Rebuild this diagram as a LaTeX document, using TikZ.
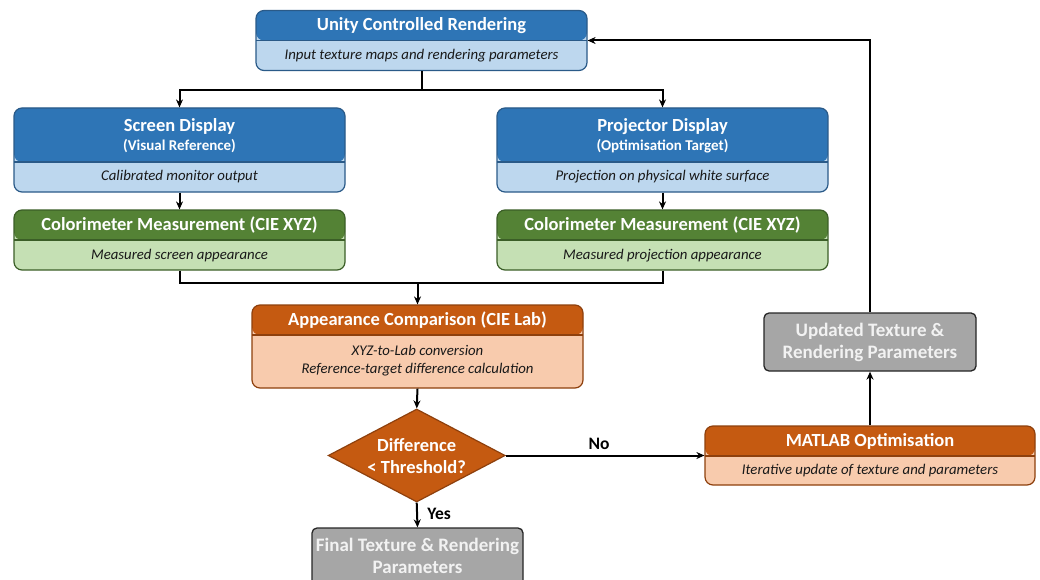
\documentclass[tikz,border=0pt]{standalone}
\usepackage{fontspec}
\setmainfont{Carlito}
\usetikzlibrary{shapes.geometric,arrows.meta}
\definecolor{bhead}{HTML}{2E75B6}
\definecolor{bbody}{HTML}{BDD7EE}
\definecolor{bline}{HTML}{2A5A88}
\definecolor{ghead}{HTML}{548235}
\definecolor{gbody}{HTML}{C5E0B4}
\definecolor{gline}{HTML}{3B5E27}
\definecolor{ohead}{HTML}{C55A11}
\definecolor{obody}{HTML}{F8CBAD}
\definecolor{oline}{HTML}{8E400D}
\definecolor{gfill}{HTML}{A6A6A6}
\definecolor{gtext}{HTML}{F2F2F2}
\tikzset{
  card/.style n args={4}{draw=#3, line width=1.2pt, rounded corners=8pt, fill=#2, inner sep=0pt,
    path picture={\fill[#1] (path picture bounding box.north west) rectangle ([yshift=-#4]path picture bounding box.east |- path picture bounding box.north);
      \draw[#3, line width=1.2pt] ([yshift=-#4]path picture bounding box.north west) -- ([yshift=-#4]path picture bounding box.north east);}},
  ttl/.style={text=white, font=\bfseries\fontsize{18.5}{22}\selectfont, align=center},
  ttls/.style={text=white, font=\bfseries\fontsize{15}{18}\selectfont, align=center},
  sub/.style={text=black!90, font=\itshape\fontsize{14.8}{18}\selectfont, align=center},
  greybox/.style={draw=black!85, line width=1.3pt, rounded corners=5pt, fill=gfill, text=gtext,
    font=\bfseries\fontsize{19}{22}\selectfont, align=center},
  conn/.style={line width=2pt, draw=black},
  arr/.style={conn, -{Stealth[length=8pt,width=7pt]}},
  lbl/.style={font=\bfseries\fontsize{17.5}{20}\selectfont}
}
\begin{document}
\begin{tikzpicture}[x=1pt,y=-1pt]
\useasboundingbox (0,0) rectangle (1040,580);
% boxes
\node[card={bhead}{bbody}{bline}{30pt}, minimum width=331pt, minimum height=60pt] (unity) at (421.5,40.5) {};
\node[ttl] (unityt) at (421.5,26) {Unity Controlled Rendering};
\node[sub] (unitys) at (421.5,55.5) {Input texture maps and rendering parameters};

\node[card={bhead}{bbody}{bline}{54pt}, minimum width=331pt, minimum height=84pt] (screen) at (179.5,150) {};
\node[ttl] (screent) at (179.5,126.5) {Screen Display};
\node[ttls] (screent2) at (179.5,146.5) {(Visual Reference)};
\node[sub] (screens) at (179.5,177) {Calibrated monitor output};

\node[card={bhead}{bbody}{bline}{54pt}, minimum width=331pt, minimum height=84pt] (proj) at (662.5,150) {};
\node[ttl] (projt) at (662.5,126.5) {Projector Display};
\node[ttls] (projt2) at (662.5,146.5) {(Optimisation Target)};
\node[sub] (projs) at (662.5,177) {Projection on physical white surface};

\node[card={ghead}{gbody}{gline}{30pt}, minimum width=331pt, minimum height=60pt] (colL) at (179.5,240) {};
\node[ttl] (colLt) at (179.5,225) {Colorimeter Measurement (CIE XYZ)};
\node[sub] (colLs) at (179.5,255.5) {Measured screen appearance};

\node[card={ghead}{gbody}{gline}{30pt}, minimum width=331pt, minimum height=60pt] (colR) at (662.5,240) {};
\node[ttl] (colRt) at (662.5,225) {Colorimeter Measurement (CIE XYZ)};
\node[sub] (colRs) at (662.5,255.5) {Measured projection appearance};

\node[card={ohead}{obody}{oline}{30pt}, minimum width=331pt, minimum height=83pt] (comp) at (417.5,346.5) {};
\node[ttl] (compt) at (417.5,320.5) {Appearance Comparison (CIE Lab)};
\node[sub] (comps) at (417.5,361) {XYZ-to-Lab conversion\\Reference-target difference calculation};

\node[diamond, draw=oline, line width=1.2pt, fill=ohead, minimum width=177pt, minimum height=93pt, inner sep=0pt] (dec) at (416.7,455.5) {};
\node[ttl] (dect) at (416.7,456) {Difference\\< Threshold?};

\node[greybox, minimum width=211pt, minimum height=74pt] (final) at (417.5,565) {};
\node[text=gtext, font=\bfseries\fontsize{19}{22}\selectfont, align=center] (finalt) at (417.5,556) {Final Texture \& Rendering\\Parameters};

\node[card={ohead}{obody}{oline}{30pt}, minimum width=330pt, minimum height=59pt] (mat) at (870,455.5) {};
\node[ttl] (matt) at (870,441) {MATLAB Optimisation};
\node[sub] (mats) at (870,470.5) {Iterative update of texture and parameters};

\node[greybox, minimum width=212pt, minimum height=58pt] (upd) at (870,342) {Updated Texture \&\\Rendering Parameters};

% connectors
\coordinate (j1) at (421.5,90);
\coordinate (j2) at (417.5,283);
\draw[conn] (unity.south) -- (j1);
\draw[arr] (j1) -| (screen.north);
\draw[arr] (j1) -| (proj.north);
\draw[arr] (screen.south) -- (colL.north);
\draw[arr] (proj.south) -- (colR.north);
\draw[conn] (colL.south) |- (j2);
\draw[conn] (colR.south) |- (j2);
\draw[arr] (j2) -- (comp.north);
\draw[arr] (comp.south) -- (dec.north);
\draw[arr] (dec.south) -- node[lbl, right=6pt, pos=0.45] {Yes} (final.north);
\draw[arr] (dec.east) -- node[lbl, above=2pt, pos=0.47] {No} (mat.west);
\draw[arr] (mat.north) -- (upd.south);
\draw[arr] (upd.north) |- (unity.east);
\end{tikzpicture}
\end{document}
